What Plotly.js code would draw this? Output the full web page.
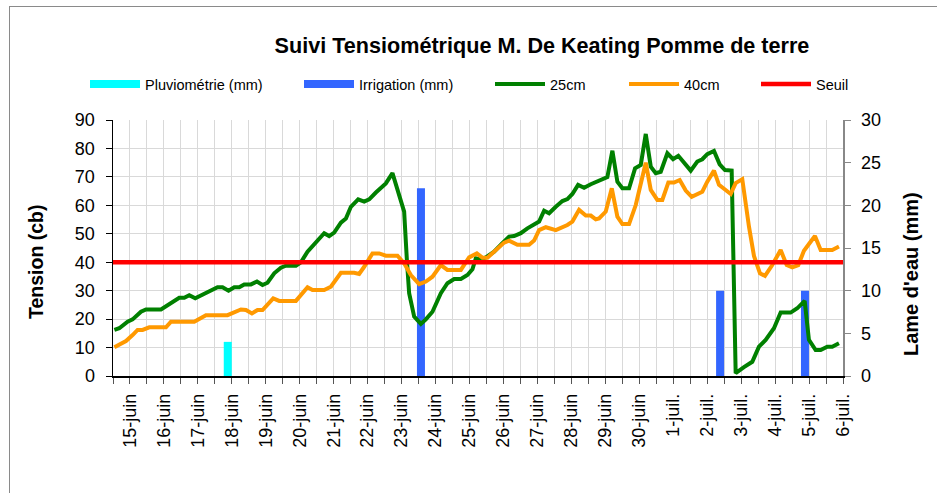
<!DOCTYPE html>
<html>
<head>
<meta charset="utf-8">
<script src="https://cdn.plot.ly/plotly-3.0.1.min.js"></script>
<style>
  html, body { margin: 0; padding: 0; background: #fff; overflow: hidden; }
  #wrap { position: relative; width: 937px; height: 493px; }
  #chart { position: absolute; left: 0; top: 0; width: 937px; height: 493px; }
  #frame { position: absolute; left: 9px; top: 6px; width: 1000px; height: 600px;
           border: 1.5px solid #8a8a8a; pointer-events: none; }
</style>
</head>
<body>
<div id="wrap">
  <div id="chart"></div>
  <div id="frame"></div>
</div>
<script>
// ---------- DATA ----------
// x positions are expressed in days since 15-juin (0 = 15-juin, 21 = 6-juil.)
const dayLabels = ['15-juin','16-juin','17-juin','18-juin','19-juin','20-juin','21-juin','22-juin',
  '23-juin','24-juin','25-juin','26-juin','27-juin','28-juin','29-juin','30-juin',
  '1-juil.','2-juil.','3-juil.','4-juil.','5-juil.','6-juil.'];

const green25Days = [-0.46,-0.315,-0.07,0.077,0.324,0.471,0.913,1.06,1.304,1.451,1.599,1.746,1.922,
  2.137,2.335,2.579,2.726,2.903,3.071,3.218,3.365,3.562,3.739,3.904,4.051,4.248,4.445,4.593,4.887,
  5.034,5.229,5.426,5.72,5.867,6.014,6.212,6.359,6.506,6.721,6.898,7.045,7.242,7.536,7.731,7.928,
  8.075,8.155,8.222,8.37,8.567,8.714,8.909,9.156,9.35,9.548,9.745,9.939,10.086,10.186,10.334,10.481,
  10.725,10.969,11.166,11.314,11.511,11.705,11.902,12.05,12.197,12.344,12.541,12.736,12.883,13.03,
  13.198,13.375,13.572,13.816,14.06,14.208,14.355,14.502,14.699,14.876,15.044,15.191,15.338,15.485,
  15.632,15.827,15.995,16.15,16.318,16.515,16.709,16.856,17.003,17.2,17.368,17.524,17.721,17.839,
  18.083,18.328,18.525,18.722,18.967,19.164,19.458,19.653,19.871,19.997,20.194,20.342,20.536,20.684,20.881];
const green25 = [16.2,16.8,19.1,19.9,22.6,23.4,23.4,24.6,26.7,27.5,27.5,28.4,27.3,
  28.5,29.6,31.2,31.2,30,31.2,31.2,32.2,32.2,33.2,32,32.8,36.1,38.1,38.8,38.8,
  40,43.7,46.4,50.2,49.2,50.4,53.9,55.4,59.5,62.1,61.3,62.1,64.5,67.7,71.3,63.6,
  57.8,40.8,29.1,20.9,18.3,19.9,22.6,29.1,32.6,34.1,34.1,35.5,37.5,41.4,41,41.7,
  43.7,46.7,49,49.2,50.2,51.9,53.4,54.3,58.1,57.2,59.5,61.5,62.2,64,
  67.2,66.2,67.4,68.6,69.9,79.2,68.3,66,66,73,74.2,85.1,73.6,71.3,
  71.8,78.3,76.2,77.4,74.8,72.2,75.4,76.2,78,79.1,74.4,72.4,72.2,1,
  3.1,5,10.3,12.7,16.8,22.3,22.3,23.8,26.4,12.7,9.1,9.1,10.3,10.3,11.5];

const orange40Days = [-0.46,-0.315,-0.118,0.077,0.224,0.371,0.568,1.06,1.207,1.893,2.237,2.873,3.071,
  3.268,3.415,3.592,3.757,3.904,4.219,4.395,4.887,5.229,5.376,5.72,5.917,6.212,6.603,6.75,6.898,
  7.142,7.339,7.536,7.878,8.075,8.272,8.517,8.714,8.909,9.156,9.35,9.745,9.989,10.216,10.381,10.528,
  10.775,11.019,11.166,11.411,11.755,11.902,12.05,12.247,12.541,12.883,13.03,13.227,13.424,13.572,
  13.719,13.816,14.013,14.19,14.355,14.502,14.699,14.896,15.191,15.338,15.532,15.679,15.856,16.024,
  16.191,16.368,16.544,16.709,16.856,17.003,17.2,17.348,17.524,17.692,17.839,18.034,18.231,18.378,
  18.555,18.702,18.917,19.164,19.341,19.506,19.682,19.85,19.997,20.174,20.342,20.684,20.881];
const orange40 = [10.1,10.9,12.3,14.4,16.2,16.2,17.1,17.1,19.1,19.1,21.4,21.4,22.6,
  23.4,23.2,22,23.2,23.2,27.3,26.4,26.4,31.2,30.2,30.2,31.4,36.3,36.3,35.9,38.4,
  43.1,43.1,42.3,42.3,39.6,35.5,32.3,33.2,34.9,39,37.3,37.3,41.7,43.1,41.6,41.6,
  44.1,46.9,47.6,46.1,46.1,47.6,51.3,52.3,51.3,53.1,54.3,58.4,56.4,56.4,
  55.1,55.4,57.8,66,56,53.4,53.4,60.1,75,65.4,61.9,61.9,68,68,
  68.9,65.2,63,64,64.8,68.3,72.2,67.2,65.4,64,67.8,69.2,52.5,42.2,
  36.1,35.2,39,44.3,39,38.2,39,44,46.4,49.2,44.3,44.3,45.5];

const pluvioDays = [2.88];
const pluvioMm = [4];
const irrigDays = [8.57, 17.38, 19.88];
const irrigMm = [22, 10, 10];
const seuilValue = 40;

// ---------- HELPERS ----------
// vertical sticks (as drawn in the original) from 0 up to each value
function sticks(days, vals) {
  const xs = [], ys = [];
  days.forEach((d, i) => { xs.push(d, d, null); ys.push(0, vals[i], null); });
  return { x: xs, y: ys };
}

const xRange = [-0.5, 21];
const tickVals = [], tickText = [];
for (let k = -1; k <= 42; k++) {
  const v = k / 2;
  tickVals.push(v);
  tickText.push(Number.isInteger(v) && v >= 0 ? dayLabels[v] : '');
}

const FONT = 'Liberation Sans, Arial, sans-serif';
const pluvio = sticks(pluvioDays, pluvioMm);
const irrig = sticks(irrigDays, irrigMm);

const traces = [
  { type: 'scatter', mode: 'lines', name: 'Pluviométrie (mm)', x: pluvio.x, y: pluvio.y, yaxis: 'y',
    line: { color: '#00FFFF', width: 8 }, legend: 'legend', hoverinfo: 'skip' },
  { type: 'scatter', mode: 'lines', name: 'Irrigation (mm)', x: irrig.x, y: irrig.y, yaxis: 'y',
    line: { color: '#3366FF', width: 8 }, legend: 'legend2', hoverinfo: 'skip' },
  { type: 'scatter', mode: 'lines', name: '25cm', x: green25Days, y: green25, yaxis: 'y2',
    line: { color: '#008000', width: 4 }, legend: 'legend3' },
  { type: 'scatter', mode: 'lines', name: '40cm', x: orange40Days, y: orange40, yaxis: 'y2',
    line: { color: '#FF9900', width: 4 }, legend: 'legend4' },
  { type: 'scatter', mode: 'lines', name: 'Seuil', x: xRange, y: xRange.map(() => seuilValue), yaxis: 'y2',
    line: { color: '#FF0000', width: 4.5 }, legend: 'legend5' }
];

function leg(x) {
  return { x: x, y: 1.14, xanchor: 'left', yanchor: 'middle', orientation: 'h',
           bgcolor: 'rgba(0,0,0,0)', font: { family: FONT, size: 14.5, color: '#000' },
           itemwidth: 50, tracegroupgap: 0 };
}

const layout = {
  width: 937, height: 493,
  margin: { l: 113, r: 94, t: 120, b: 117, pad: 0 },
  paper_bgcolor: '#fff', plot_bgcolor: '#fff',
  showlegend: true,
  title: { text: 'Suivi Tensiométrique M. De Keating Pomme de terre',
           font: { family: FONT, size: 21.6, color: '#000', weight: 'bold' },
           xref: 'container', yref: 'container', x: 542/937, y: 1 - 45/493,
           xanchor: 'center', yanchor: 'middle' },
  xaxis: { range: xRange, tickmode: 'array', tickvals: tickVals, ticktext: tickText,
           tickangle: -90, ticks: 'outside', ticklen: 6, tickcolor: '#555', tickwidth: 1,
           ticklabelstandoff: 3,
           showgrid: true, gridcolor: '#d9d9d9', gridwidth: 1,
           showline: true, linecolor: '#000', linewidth: 1.5, zeroline: false,
           tickfont: { family: FONT, size: 18, color: '#000' }, fixedrange: true },
  yaxis: { range: [0, 30], tickmode: 'linear', tick0: 0, dtick: 5, side: 'right',
           ticks: 'outside', ticklen: 6, tickcolor: '#888', showgrid: false, ticklabelstandoff: 7,
           showline: true, linecolor: '#888', linewidth: 1.5, zeroline: false,
           tickfont: { family: FONT, size: 18, color: '#000' } },
  yaxis2: { range: [0, 90], tickmode: 'linear', tick0: 0, dtick: 10, side: 'left', overlaying: 'y',
            ticks: 'outside', ticklen: 6, tickcolor: '#000', showgrid: true, gridcolor: '#d9d9d9', gridwidth: 1,
            ticklabelstandoff: 7,
            showline: true, linecolor: '#000', linewidth: 1.5, zeroline: false,
            tickfont: { family: FONT, size: 18, color: '#000' } },
  annotations: [
    { text: 'Tension (cb)', xref: 'paper', yref: 'paper', x: (36 - 113) / 730, y: (376 - 262) / 256,
      xanchor: 'center', yanchor: 'middle', textangle: -90, showarrow: false,
      font: { family: FONT, size: 19.5, color: '#000', weight: 'bold' } },
    { text: "Lame d'eau (mm)", xref: 'paper', yref: 'paper', x: (911 - 113) / 730, y: (376 - 274) / 256,
      xanchor: 'center', yanchor: 'middle', textangle: -90, showarrow: false,
      font: { family: FONT, size: 20, color: '#000', weight: 'bold' } }
  ],
  legend: leg((147 - 62 - 113) / 730),
  legend2: leg((361 - 62 - 113) / 730),
  legend3: leg((552 - 62 - 113) / 730),
  legend4: leg((686 - 62 - 113) / 730),
  legend5: leg((818 - 62 - 113) / 730)
};

Plotly.newPlot('chart', traces, layout, { staticPlot: true, displayModeBar: false });
</script>
</body>
</html>
